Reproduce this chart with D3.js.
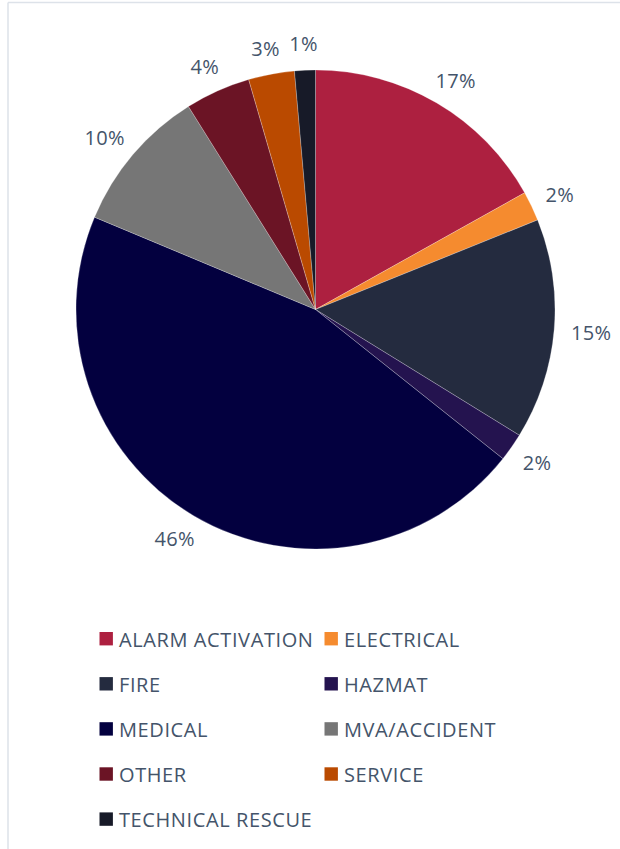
<!DOCTYPE html>
<html>
<head>
<meta charset="utf-8">
<script src="https://cdn.jsdelivr.net/npm/d3@7"></script>
<style>
  html, body { margin: 0; padding: 0; background: #fff; }
  svg { display: block; font-family: "Open Sans", "Noto Sans", sans-serif; }
</style>
</head>
<body>
<div id="chart"></div>
<script>
// Incident types share (percent)
const categories = ["ALARM ACTIVATION", "ELECTRICAL", "FIRE", "HAZMAT", "MEDICAL",
                    "MVA/ACCIDENT", "OTHER", "SERVICE", "TECHNICAL RESCUE"];
const shares = [16.9, 2.0, 14.9, 1.9, 45.6, 9.8, 4.4, 3.1, 1.4];
const colors = ["#AD2040", "#F58B2F", "#242B3F", "#24134F", "#03003F",
                "#767676", "#6B1425", "#BA4A00", "#171A28"];

const width = 620, height = 849;
const cx = 315.5, cy = 309.5, radius = 239.5;
const textColor = "#44546A";

const svg = d3.select("#chart").append("svg")
    .attr("width", width)
    .attr("height", height);

// Chart frame (only top and left edges visible in the crop)
svg.append("line").attr("x1", 8).attr("x2", width).attr("y1", 2.5).attr("y2", 2.5)
    .attr("stroke", "#dde2e9").attr("stroke-width", 1.5);
svg.append("line").attr("x1", 8).attr("x2", 8).attr("y1", 2.5).attr("y2", height)
    .attr("stroke", "#dde2e9").attr("stroke-width", 1.5);

const data = categories.map((c, i) => ({ name: c, value: shares[i], color: colors[i] }));

const pie = d3.pie().sort(null).value(d => d.value);
const arcs = pie(data);
const arc = d3.arc().innerRadius(0).outerRadius(radius);

const g = svg.append("g").attr("transform", `translate(${cx},${cy})`);

g.selectAll("path.slice")
    .data(arcs)
    .enter().append("path")
    .attr("class", "slice")
    .attr("d", arc)
    .attr("fill", d => d.data.color)
    .attr("stroke", "#fff")
    .attr("stroke-opacity", 0.4)
    .attr("stroke-width", 0.6);

// Percentage labels, placed just outside the rim
const total = d3.sum(shares);
const labelGap = 17;
const labels = g.selectAll("text.pct")
    .data(arcs)
    .enter().append("text")
    .attr("class", "pct")
    .attr("fill", textColor)
    .attr("font-size", 20)
    .attr("letter-spacing", 0.3)
    .attr("text-anchor", "middle")
    .attr("dominant-baseline", "central")
    .text(d => Math.round(d.data.value / total * 100) + "%");

labels.each(function(d) {
    const a = (d.startAngle + d.endAngle) / 2;
    const bb = this.getBBox();
    const r = radius + labelGap;
    const x = r * Math.sin(a) + bb.width / 2 * Math.sin(a);
    const y = -r * Math.cos(a) - (bb.height / 2 - 4) * Math.cos(a);
    d3.select(this).attr("x", x).attr("y", y);
});

// Legend: two columns
const legendX = [99.5, 324.5];
const legendY0 = 638.7, legendStep = 45.1, box = 13.4;

const legend = svg.selectAll("g.legend")
    .data(data)
    .enter().append("g")
    .attr("class", "legend")
    .attr("transform", (d, i) => `translate(${legendX[i % 2]},${legendY0 + Math.floor(i / 2) * legendStep})`);

legend.append("rect")
    .attr("x", 0)
    .attr("y", -box / 2)
    .attr("width", box)
    .attr("height", box)
    .attr("fill", d => d.color);

legend.append("text")
    .attr("x", 19.5)
    .attr("y", 0.5)
    .attr("dominant-baseline", "central")
    .attr("fill", textColor)
    .attr("font-size", 20)
    .attr("letter-spacing", 0.6)
    .text(d => d.name);
</script>
</body>
</html>
